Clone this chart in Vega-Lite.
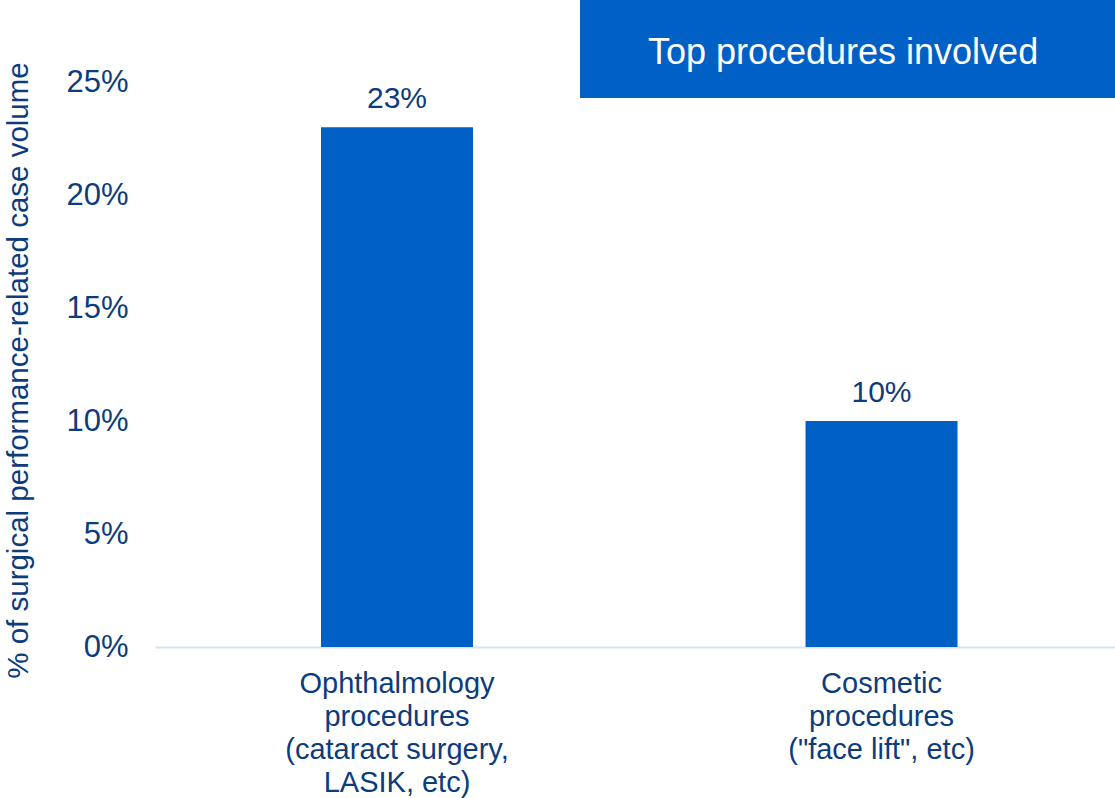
{
  "$schema": "https://vega.github.io/schema/vega-lite/v6.json",
  "width": 960,
  "height": 647,
  "autosize": {"type": "none"},
  "padding": {"left": 155, "top": 0, "right": 0, "bottom": 151},
  "background": "white",
  "config": {"view": {"stroke": null}, "font": "Liberation Sans"},
  "datasets": {
    "bars": [
      {"category": "Ophthalmology|procedures|(cataract surgery,|LASIK, etc)", "value": 0.23, "label": "23%"},
      {"category": "Cosmetic|procedures|(\"face lift\", etc)", "value": 0.10, "label": "10%"}
    ],
    "header": [
      {"x": 0.4427, "x2": 1, "y": 0.2429, "y2": 0.2863, "xc": 0.7167, "yc": 0.2630, "text": "Top procedures involved"}
    ]
  },
  "layer": [
    {
      "data": {"name": "bars"},
      "encoding": {
        "x": {
          "field": "category", "type": "nominal", "sort": null,
          "scale": {"paddingInner": 0.6863, "paddingOuter": 0.3426, "range": [0, 968.5]},
          "axis": {
            "title": null, "labelAngle": 0, "labelExpr": "split(datum.label, '|')",
            "labelFontSize": 29, "labelLineHeight": 33, "labelColor": "#0c3c7c",
            "labelLimit": 500, "ticks": false, "domainColor": "#d9e1f2", "domainWidth": 2,
            "labelPadding": 22, "grid": false
          }
        },
        "y": {
          "field": "value", "type": "quantitative",
          "scale": {"domain": [0, 0.2863], "nice": false, "zero": true},
          "axis": {
            "values": [0, 0.05, 0.1, 0.15, 0.2, 0.25], "format": ".0%",
            "title": "% of surgical performance-related case volume",
            "titleFontSize": 29.5, "titleFontWeight": "normal", "titleColor": "#0c3c7c",
            "titleY": 370, "titlePadding": 32,
            "labelFontSize": 31, "labelColor": "#0c3c7c", "labelPadding": 27,
            "ticks": false, "domain": false, "grid": false
          }
        }
      },
      "layer": [
        {"mark": {"type": "bar", "color": "#0060c5"}},
        {
          "mark": {"type": "text", "baseline": "alphabetic", "dy": -19, "fontSize": 30, "color": "#0c3c7c"},
          "encoding": {"text": {"field": "label"}}
        }
      ]
    },
    {
      "data": {"name": "header"},
      "layer": [
        {
          "mark": {"type": "rect", "color": "#0060c5"},
          "encoding": {
            "x": {"field": "x", "type": "quantitative", "scale": {"domain": [0, 1], "nice": false, "zero": false}, "axis": null},
            "x2": {"field": "x2"},
            "y": {"field": "y", "type": "quantitative", "axis": null},
            "y2": {"field": "y2"}
          }
        },
        {
          "mark": {"type": "text", "color": "white", "fontSize": 36, "align": "center", "baseline": "middle"},
          "encoding": {
            "x": {"field": "xc", "type": "quantitative", "axis": null},
            "y": {"field": "yc", "type": "quantitative", "axis": null},
            "text": {"field": "text"}
          }
        }
      ]
    }
  ],
  "resolve": {"scale": {"x": "independent"}, "axis": {"x": "independent", "y": "independent"}}
}
